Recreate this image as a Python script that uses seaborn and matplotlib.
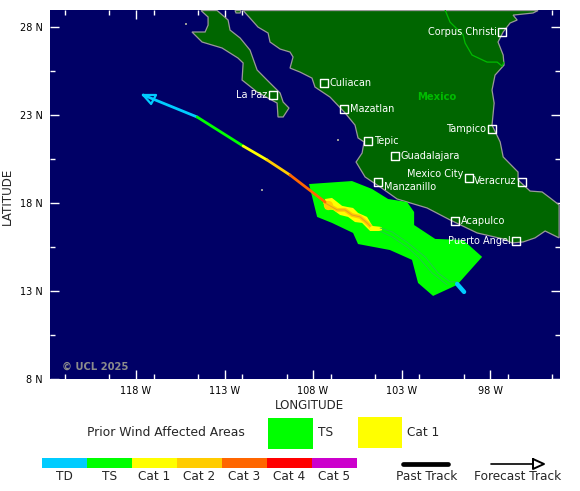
"""Hurricane track map with prior wind affected areas."""
import numpy as np
import matplotlib
matplotlib.use('Agg')
import matplotlib.pyplot as plt
from matplotlib.colors import ListedColormap
from matplotlib.patches import Rectangle
from matplotlib.ticker import MultipleLocator, FixedLocator
import seaborn as sns

# ─── Data ─────────────────────────────────────────────────────────────────────

mainland_lon = [-111.95, -111.56, -111.11, -110.54, -110.43, -109.86, -109.30, -109.13,
                -109.30, -108.73, -108.06, -107.89, -107.04, -106.19, -105.63, -105.46,
                -105.12, -105.23, -105.57, -105.06, -104.21, -103.25, -102.69, -101.56,
                -100.26, -98.73, -97.26, -96.76, -96.13, -95.46, -94.89, -94.10,
                -94.10, -94.61, -95.06, -95.74, -96.42, -96.42, -97.26, -97.43,
                -97.89, -97.77, -97.89, -97.72, -97.21, -97.26, -97.55, -97.26,
                -96.87, -96.47, -96.70, -95.57, -95.29]
mainland_lat = [28.94, 28.51, 28.00, 27.66, 27.15, 26.75, 26.58, 26.30,
                25.67, 25.44, 25.10, 24.59, 24.02, 23.12, 22.43, 21.70,
                21.47, 20.84, 20.33, 19.48, 18.91, 18.23, 18.06, 17.72,
                17.04, 16.30, 15.96, 15.73, 15.79, 16.02, 16.41, 16.02,
                17.89, 18.29, 18.63, 18.68, 19.31, 19.76, 20.62, 21.47,
                22.43, 23.68, 24.42, 25.27, 25.84, 26.41, 27.15, 27.72,
                28.23, 28.40, 28.68, 28.80, 28.94]

baja_lon = [-114.33, -113.93, -113.93, -114.10, -114.84, -114.27, -113.14, -112.24,
            -111.95, -112.01, -111.16, -110.03, -109.98, -109.69, -109.36, -109.69,
            -109.86, -110.60, -111.16, -111.56, -112.12, -112.69, -112.80, -113.42]
baja_lat = [28.94, 28.57, 28.11, 27.72, 27.72, 27.15, 26.81, 26.24,
            25.96, 24.99, 24.31, 23.68, 22.89, 22.89, 23.40, 23.74,
            24.25, 24.99, 25.56, 26.69, 27.38, 27.83, 28.40, 28.94]

island_lon = [-112.41, -112.07, -112.12, -112.35]
island_lat = [28.94, 28.94, 28.80, 28.80]
islet_lon = [-115.18, -106.59, -110.88]
islet_lat = [28.17, 21.58, 18.74]

border_lon = [-100.54, -100.26, -99.52, -99.41, -99.02, -98.17, -97.60, -97.32, -97.21]
border_lat = [28.97, 28.28, 27.55, 27.09, 26.41, 26.01, 26.01, 25.78, 26.01]

ts_area_lon = [-108.23, -105.80, -104.67, -103.76, -102.69, -102.29, -102.29, -101.10,
               -99.52, -98.45, -99.86, -101.22, -102.07, -102.41, -103.66, -105.46,
               -105.74, -106.93, -107.77]
ts_area_lat = [19.08, 19.25, 18.80, 18.23, 18.06, 17.49, 16.75, 15.96,
               15.90, 14.94, 13.35, 12.72, 13.46, 14.77, 15.33, 15.67,
               16.30, 16.87, 17.21]

cat1_area_lon = [-107.32, -106.93, -106.36, -106.08, -105.74, -105.46, -104.95, -104.61,
                 -104.21, -104.21, -104.78, -105.23, -105.63, -106.02, -106.47, -106.87,
                 -107.32]
cat1_area_lat = [18.23, 18.29, 17.84, 17.78, 17.72, 17.44, 17.21, 16.64,
                 16.64, 16.41, 16.41, 16.87, 16.92, 17.21, 17.32, 17.61,
                 17.66]

# past track inside the swath
cat2_past_lon = [-107.32, -106.93, -106.64, -106.19, -105.80, -105.34, -104.95, -104.67]
cat2_past_lat = [18.00, 17.78, 17.61, 17.61, 17.32, 17.21, 16.87, 16.58]
cat2_peak_lon = [-107.15]
cat2_peak_lat = [17.89]
cat1_past_lon = [-104.67, -104.21]
cat1_past_lat = [16.58, 16.53]
ts_edge_upper_lon = [-104.21, -103.53, -102.63, -101.67, -100.94, -100.26, -99.86]
ts_edge_upper_lat = [16.58, 16.36, 15.73, 14.94, 14.03, 13.52, 13.52]
ts_edge_lower_lon = [-104.21, -103.53, -102.63, -102.07, -101.28, -100.43]
ts_edge_lower_lat = [16.41, 16.07, 15.45, 14.94, 14.03, 13.35]
td_past_lon = [-99.86, -99.47]
td_past_lat = [13.40, 12.95]

# forecast track, one segment per intensity
forecast_lon = [-117.60, -114.55, -111.95, -110.60, -109.30, -107.32]
forecast_lat = [24.14, 22.89, 21.24, 20.45, 19.59, 18.06]
forecast_cat = ['TD', 'TS', 'Cat 1', 'Cat 2', 'Cat 3']
arrow_lon = [-117.60, -116.87, -117.15, -117.60]
arrow_lat = [24.14, 24.14, 23.63, 24.14]

city_names = ['Corpus Christi', 'La Paz', 'Culiacan', 'Mazatlan', 'Tepic', 'Guadalajara',
              'Tampico', 'Mexico City', 'Veracruz', 'Manzanillo', 'Acapulco', 'Puerto Angel']
city_lon = [-97.32, -110.26, -107.38, -106.25, -104.89, -103.37,
            -97.89, -99.19, -96.19, -104.33, -99.98, -96.53]
city_lat = [27.72, 24.14, 24.82, 23.34, 21.52, 20.67,
            22.21, 19.42, 19.20, 19.20, 16.98, 15.84]
city_side = ['l', 'l', 'r', 'r', 'r', 'r', 'l', 'l', 'l', 'r', 'r', 'l']
city_dy = [0, 0, 0, 0, 0, 0, 0, 3, 1, -4, 0, 0]

x_ticks = [-118, -113, -108, -103, -98]
x_labels = ['118 W', '113 W', '108 W', '103 W', '98 W']
y_ticks = [8, 13, 18, 23, 28]
y_labels = ['8 N', '13 N', '18 N', '23 N', '28 N']

scale_names = ['TD', 'TS', 'Cat 1', 'Cat 2', 'Cat 3', 'Cat 4', 'Cat 5']
scale_colours = ['#00CCFF', '#00FF00', '#FFFF00', '#FFCC00', '#FF6600', '#FF0000', '#CC00CC']
colour_of = dict(zip(scale_names, scale_colours))

OCEAN = '#000066'
LAND = '#006600'
COAST = '#999999'

# ─── Figure ───────────────────────────────────────────────────────────────────

sns.set_style('ticks')
plt.rcParams['font.family'] = ['DejaVu Sans']

W, H = 580, 491
fig = plt.figure(figsize=(W / 100, H / 100), dpi=100, facecolor='white')
ax = fig.add_axes([50 / W, 1 - 379 / H, 510 / W, 369 / H], facecolor=OCEAN)


def track(lons, lats, colour, lw, z=6):
    sns.lineplot(x=lons, y=lats, color=colour, linewidth=lw, sort=False, estimator=None,
                 errorbar=None, ax=ax, zorder=z, solid_capstyle='round')


# land
ax.fill(mainland_lon, mainland_lat, facecolor=LAND, edgecolor=COAST, linewidth=0.9, zorder=1)
ax.fill(baja_lon, baja_lat, facecolor=LAND, edgecolor=COAST, linewidth=0.9, zorder=1)
ax.fill(island_lon, island_lat, facecolor=LAND, edgecolor=COAST, linewidth=0.9, zorder=1)
sns.scatterplot(x=islet_lon, y=islet_lat, color=COAST, s=3, marker='s', linewidth=0, ax=ax, zorder=1)
track(border_lon, border_lat, '#00BB00', 0.9, z=2)

# wind swaths
ax.fill(ts_area_lon, ts_area_lat, facecolor='#00FF00', edgecolor='none', zorder=3)
ax.fill(cat1_area_lon, cat1_area_lat, facecolor='#FFFF00', edgecolor='none', zorder=4)
track(cat2_past_lon, cat2_past_lat, '#FFCC00', 2.8, z=5)
sns.scatterplot(x=cat2_peak_lon, y=cat2_peak_lat, color='#FFCC00', s=45, marker='o', linewidth=0,
                ax=ax, zorder=5)
track(cat2_past_lon, cat2_past_lat, '#E0A020', 0.7, z=5)
track(cat1_past_lon, cat1_past_lat, '#FFFF00', 3.0, z=5)
track(ts_edge_upper_lon, ts_edge_upper_lat, '#22CC44', 0.7, z=5)
track(ts_edge_lower_lon, ts_edge_lower_lat, '#22CC44', 0.7, z=5)
track(td_past_lon, td_past_lat, '#00CCFF', 3.2, z=5)

# forecast track
for i, cat in enumerate(forecast_cat):
    track(forecast_lon[i:i + 2], forecast_lat[i:i + 2], colour_of[cat], 2.0)
track(arrow_lon, arrow_lat, colour_of['TD'], 1.6)

# cities
sns.scatterplot(x=city_lon, y=city_lat, marker='s', s=28, facecolor='none', edgecolor='white',
                linewidth=1.0, ax=ax, zorder=8)
for name, lon, lat, side, dy in zip(city_names, city_lon, city_lat, city_side, city_dy):
    sign = 1 if side == 'r' else -1
    ax.annotate(name, (lon, lat), xytext=(sign * 4, dy), textcoords='offset points',
                ha='left' if side == 'r' else 'right', va='center',
                color='white', fontsize=7.0, zorder=9)
ax.text(-100.99, 24.02, 'Mexico', color='#00BB00', fontsize=7.2, fontweight='bold',
        ha='center', va='center', zorder=9)
ax.text(-120.32, 8.69, '© UCL 2025', color='#8C8C8C', fontsize=7.2, fontweight='bold',
        ha='center', va='center', zorder=9)

# axes
ax.set_xlim(-122.86, -94.05)
ax.set_ylim(8.0, 28.97)
ax.xaxis.set_major_locator(FixedLocator(x_ticks))
ax.set_xticklabels(x_labels)
ax.yaxis.set_major_locator(FixedLocator(y_ticks))
ax.set_yticklabels(y_labels)
ax.xaxis.set_minor_locator(MultipleLocator(2.5, offset=0.5))
ax.yaxis.set_minor_locator(MultipleLocator(2.5, offset=0.5))
ax.tick_params(which='major', direction='in', color='white', length=6.5, width=1,
               top=True, right=True, labelsize=7.0, labelcolor='black', pad=5)
ax.tick_params(which='minor', direction='in', color='white', length=3.6, width=1,
               top=True, right=True)
ax.set_xlabel('LONGITUDE', fontsize=8.6)
ax.set_ylabel('LATITUDE', fontsize=8.6)
ax.xaxis.set_label_coords(259 / 510, -20 / 369)
ax.yaxis.set_label_coords(-36 / 510, 0.495)
for spine in ax.spines.values():
    spine.set_visible(False)

# ─── Legend ───────────────────────────────────────────────────────────────────

bar_ax = fig.add_axes([42 / W, 1 - 468 / H, 315 / W, 10 / H])
sns.heatmap(np.arange(len(scale_names)).reshape(1, -1), cmap=ListedColormap(scale_colours),
            cbar=False, xticklabels=False, yticklabels=False, ax=bar_ax)
bar_ax.set_xlabel('')
bar_ax.set_ylabel('')

key = fig.add_axes([0, 0, 1, 1], facecolor='none')
key.set_xlim(0, W)
key.set_ylim(H, 0)
key.axis('off')
key.text(87, 433, 'Prior Wind Affected Areas', fontsize=8.9, va='center')
key.add_patch(Rectangle((268, 418), 45, 31, facecolor='#00FF00', edgecolor='none'))
key.text(318, 433, 'TS', fontsize=8.7, va='center')
key.add_patch(Rectangle((358, 417), 44, 31, facecolor='#FFFF00', edgecolor='none'))
key.text(407, 433, 'Cat 1', fontsize=8.7, va='center')
for i, name in enumerate(scale_names):
    key.text(64.5 + 45 * i, 476, name, fontsize=8.7, ha='center', va='center')
key.plot([403, 448], [464, 464], color='black', lw=3.4, solid_capstyle='round')
key.plot([491, 533], [464, 464], color='black', lw=1.2)
key.plot([533, 544, 533, 533], [459, 464, 469, 459], color='black', lw=1.4)
key.text(426.5, 476, 'Past Track', fontsize=8.7, ha='center', va='center')
key.text(518, 476, 'Forecast Track', fontsize=8.7, ha='center', va='center')

fig.savefig('out.png', dpi=100)
plt.close(fig)
